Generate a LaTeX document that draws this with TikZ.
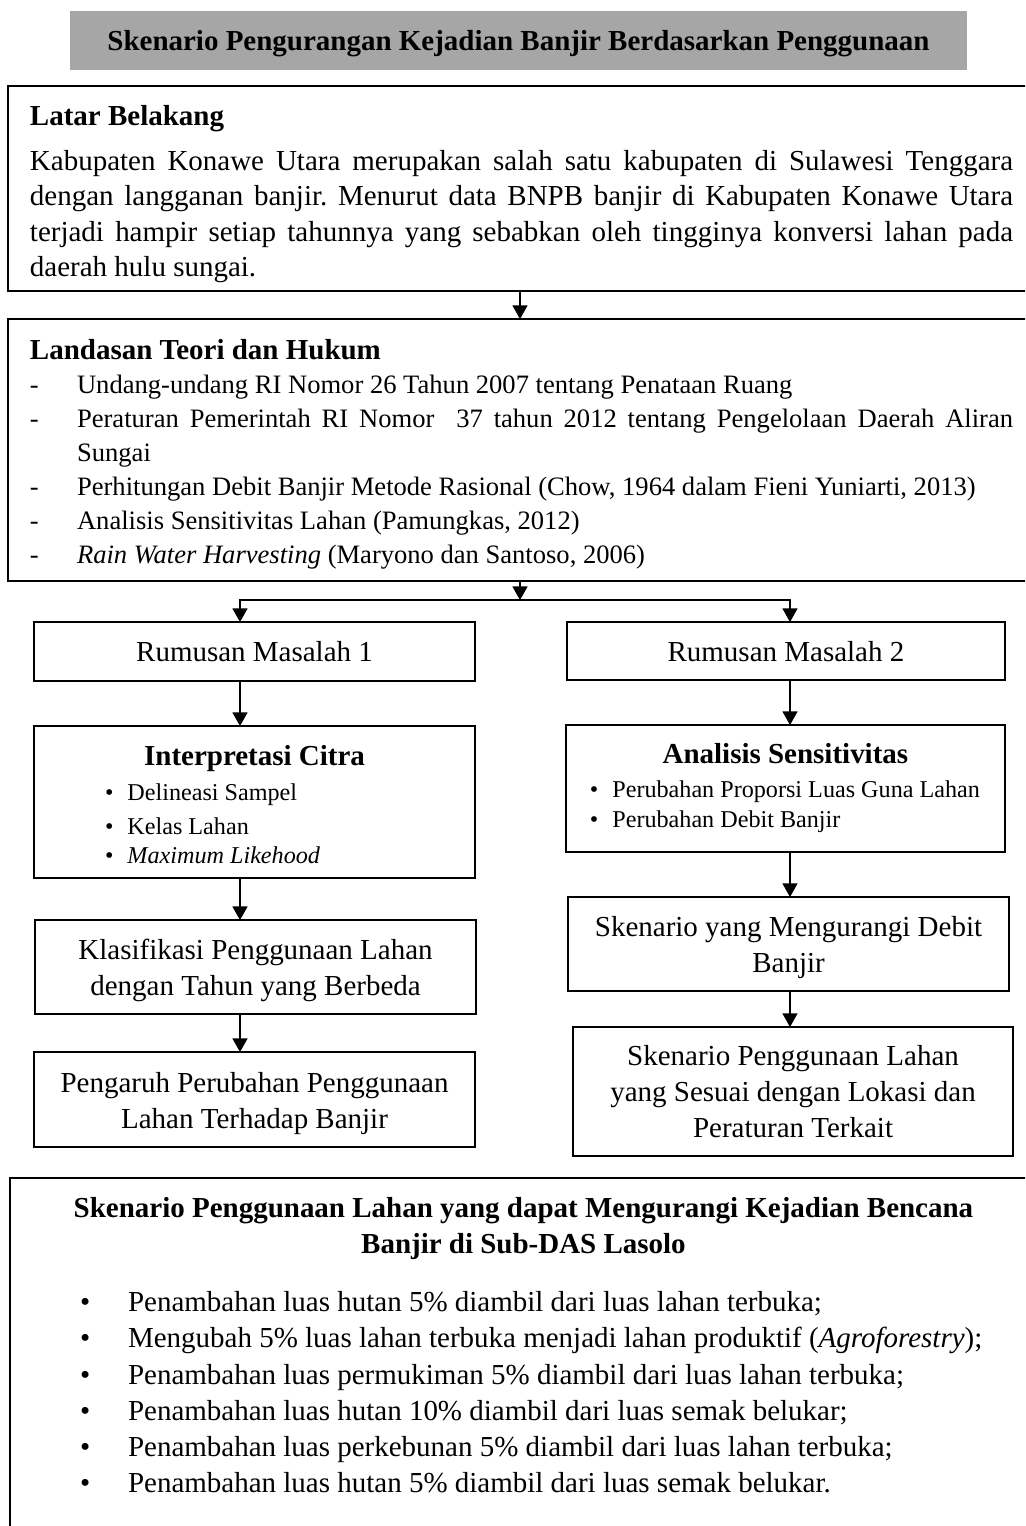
\documentclass[tikz,border=0pt]{standalone}
\usepackage{fontspec}
\setmainfont{Liberation Serif}
\usepackage{tikz}
\usetikzlibrary{arrows.meta,calc}
\definecolor{garis}{HTML}{000000}
\definecolor{abu}{HTML}{A6A6A6}
\tikzset{
  dasar/.style={anchor=north west, inner sep=0pt, outer sep=0pt, font=\fontsize{12}{14.57}\selectfont},
  judul/.style={dasar, fill=abu, align=flush center, text width=371.36pt},
  kotakbesar/.style={dasar, draw=garis, line width=1.1pt, inner xsep=9.1pt, align=justify, text width=407pt},
  kotak/.style={dasar, draw=garis, line width=0.85pt, align=flush center, text width=182.6pt},
  kotakdua/.style={kotak, font=\fontsize{12}{15}\selectfont},
  kotakdaftar/.style={kotak, font=\fontsize{12}{12}\selectfont},
  panah/.style={-{Triangle[width=6.2pt,length=5.6pt]}, line width=0.45pt, draw=garis}
}
\newcommand{\butirstrip}[1]{\hangindent=19.5pt\hangafter=1\noindent\makebox[19.5pt][l]{-}#1\par}
\newcommand{\butirkecil}[2]{\makebox[\linewidth][l]{\hspace*{#1}\fontsize{10}{12}\selectfont\makebox[9.3pt][l]{\textbullet}#2}}
\newcommand{\butirbulat}[1]{\makebox[\linewidth][l]{\hspace*{20.7pt}\makebox[19.9pt][l]{\textbullet}#1}}
\hyphenpenalty=10000
\frenchspacing
\begin{document}
\begin{tikzpicture}[x=0.414pt, y=-0.414pt]
  \useasboundingbox (0,0) rectangle (1025,1526);
  \clip (0,0) rectangle (1025,1526);
  \node[judul, text height=16.15pt, text depth=8.28pt] (tajuk) at (70,11) {\bfseries Skenario Pengurangan Kejadian Banjir Berdasarkan Penggunaan};
  \node[kotakbesar, text height=16.15pt, text depth=68.72pt] (latar) at (8,86) {\textbf{Latar Belakang}\par\vspace{4.35pt}
    Kabupaten Konawe Utara merupakan salah satu kabupaten di Sulawesi Tenggara\linebreak
    dengan langganan banjir. Menurut data BNPB banjir di Kabupaten Konawe Utara\linebreak
    terjadi hampir setiap tahunnya yang sebabkan oleh tingginya konversi lahan pada\linebreak
    daerah hulu sungai.};
  \node[kotakbesar, text height=16.56pt, text depth=91.9pt] (landasan) at (8,319) {\textbf{Landasan Teori dan Hukum}\par
    \fontsize{11}{14.1}\selectfont
    \butirstrip{Undang-undang RI Nomor 26 Tahun 2007 tentang Penataan Ruang}
    \butirstrip{Peraturan Pemerintah RI Nomor\ \ 37 tahun 2012 tentang Pengelolaan Daerah Aliran\linebreak Sungai}
    \butirstrip{Perhitungan Debit Banjir Metode Rasional (Chow, 1964 dalam Fieni Yuniarti, 2013)}
    \butirstrip{Analisis Sensitivitas Lahan (Pamungkas, 2012)}
    \butirstrip{\textit{Rain Water Harvesting} (Maryono dan Santoso, 2006)}};

  \node[kotak, text height=16.15pt, text depth=8.28pt] (rm1) at (34,622) {Rumusan Masalah 1};
  \node[kotak, text width=181.3pt, text height=16.15pt, text depth=7.87pt] (rm2) at (567,622) {Rumusan Masalah 2};
  \node[kotakdaftar, text height=16.15pt, text depth=46.78pt] (citra) at (34,726) {\textbf{Interpretasi Citra}\\[2.5pt]
    \butirkecil{29.4pt}{Delineasi Sampel}\\[2.2pt]
    \butirkecil{29.4pt}{Kelas Lahan}\\
    \butirkecil{29.4pt}{\textit{Maximum Likehood}}};
  \node[kotakdaftar, text width=181.7pt, text height=15.73pt, text depth=36.85pt] (sensitif) at (566,725) {\textbf{Analisis Sensitivitas}\\[2.1pt]
    \butirkecil{9.9pt}{Perubahan Proporsi Luas Guna Lahan}\\[0.4pt]
    \butirkecil{9.9pt}{Perubahan Debit Banjir}};
  \node[kotakdua, text height=16.15pt, text depth=22.77pt] (klasifikasi) at (35,920) {Klasifikasi Penggunaan Lahan\\dengan Tahun yang Berbeda};
  \node[kotakdua, text height=16.56pt, text depth=22.77pt] (pengaruh) at (34,1052) {Pengaruh Perubahan Penggunaan\\Lahan Terhadap Banjir};
  \node[kotakdua, text height=16.15pt, text depth=22.77pt] (debit) at (568,897) {Skenario yang Mengurangi Debit\\Banjir};
  \node[kotakdua, text width=182.2pt, text height=15.73pt, text depth=37.67pt] (sesuai) at (573,1027) {Skenario Penggunaan Lahan\\yang Sesuai dengan Lokasi dan\\Peraturan Terkait};

  \node[kotakbesar, align=flush center, inner xsep=8.28pt, text width=408.6pt, font=\fontsize{12}{15}\selectfont, text height=16.15pt, text depth=142pt] (akhir) at (10,1178) {\textbf{Skenario Penggunaan Lahan yang dapat Mengurangi Kejadian Bencana}\\
    \textbf{Banjir di Sub-DAS Lasolo}\\[9.2pt]
    \butirbulat{Penambahan luas hutan 5\% diambil dari luas lahan terbuka;}\\
    \butirbulat{Mengubah 5\% luas lahan terbuka menjadi lahan produktif (\textit{Agroforestry});}\\
    \butirbulat{Penambahan luas permukiman 5\% diambil dari luas lahan terbuka;}\\
    \butirbulat{Penambahan luas hutan 10\% diambil dari luas semak belukar;}\\
    \butirbulat{Penambahan luas perkebunan 5\% diambil dari luas lahan terbuka;}\\
    \butirbulat{Penambahan luas hutan 5\% diambil dari luas semak belukar.}};

  \coordinate (pusat) at (520,600);
  \coordinate (kiri) at (240,600);
  \coordinate (kanan) at (790,600);
  \draw[panah] (latar.south -| pusat) -- (landasan.north -| pusat);
  \draw[panah] (landasan.south -| pusat) -- (pusat);
  \draw[panah] (pusat) -| (rm1.north -| kiri);
  \draw[panah] (pusat) -| (rm2.north -| kanan);
  \draw[panah] (rm1.south -| kiri) -- (citra.north -| kiri);
  \draw[panah] (citra.south -| kiri) -- (klasifikasi.north -| kiri);
  \draw[panah] (klasifikasi.south -| kiri) -- (pengaruh.north -| kiri);
  \draw[panah] (rm2.south -| kanan) -- (sensitif.north -| kanan);
  \draw[panah] (sensitif.south -| kanan) -- (debit.north -| kanan);
  \draw[panah] (debit.south -| kanan) -- (sesuai.north -| kanan);
\end{tikzpicture}
\end{document}
